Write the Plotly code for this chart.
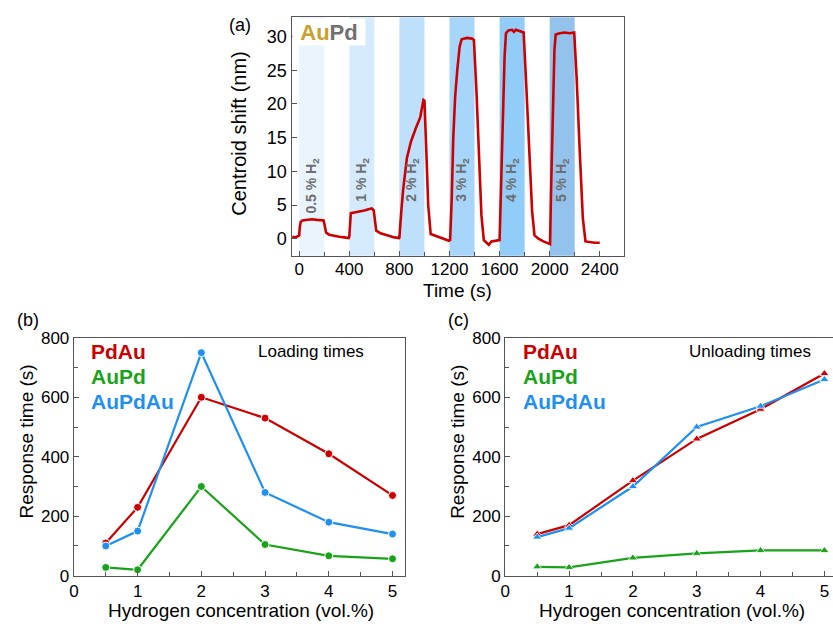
import plotly.graph_objects as go

# ---------------- data ----------------
# Panel (a): AuPd centroid shift trace
time_s = [-55, -30, -10, 0, 5, 12, 25, 60, 100, 140, 180, 195, 205, 215, 240, 280, 320, 360, 395,
          400, 405, 412, 440, 480, 520, 560, 580, 595, 605, 615, 650, 700, 760, 798,
          800, 815, 830, 860, 892, 931, 966, 992, 1000, 1015, 1030, 1050, 1080, 1120, 1160, 1196,
          1205, 1218, 1230, 1245, 1262, 1281, 1297, 1340, 1380, 1395, 1415, 1435, 1455, 1474, 1495, 1514, 1535, 1570, 1595,
          1600, 1612, 1625, 1640, 1651, 1670, 1700, 1715, 1730, 1760, 1792, 1810, 1835, 1860, 1879, 1910, 1950, 1995,
          2003, 2012, 2025, 2038, 2048, 2080, 2120, 2160, 2196, 2215, 2240, 2265, 2286, 2320, 2360, 2400]
shift_nm = [0.3, 0.2, 0.4, 0.5, 1.8, 2.5, 2.7, 2.8, 2.9, 2.8, 2.8, 2.7, 1.8, 0.9, 0.6, 0.4, 0.3, 0.2, 0.1,
            0.3, 2.5, 3.8, 3.9, 4.0, 4.2, 4.4, 4.5, 4.2, 2.5, 1.2, 0.8, 0.5, 0.2, 0.1,
            0.2, 4.0, 7.3, 12.0, 14.4, 16.4, 18.0, 20.6, 20.5, 13.0, 5.0, 0.7, 0.5, 0.3, 0.0, -0.3,
            -0.2, 6.0, 14.9, 21.0, 25.0, 28.5, 29.6, 29.8, 29.7, 29.5, 22.0, 12.0, 3.5, -0.2, -0.6, -0.9, -0.4, -0.3, -0.3,
            -0.2, 8.0, 19.0, 27.0, 30.5, 30.9, 31.0, 30.7, 31.0, 30.8, 30.6, 24.0, 13.0, 4.0, 0.5, 0.0, -0.4, -0.7,
            -0.8, 8.0, 20.0, 28.0, 30.3, 30.5, 30.6, 30.5, 30.6, 24.0, 13.0, 3.0, -0.4, -0.5, -0.6, -0.6]
band_start = [0, 400, 800, 1200, 1600, 2000]
band_end = [200, 600, 1000, 1400, 1800, 2200]
band_label = ["0.5 % H<sub>2</sub>", "1 % H<sub>2</sub>", "2 % H<sub>2</sub>",
              "3 % H<sub>2</sub>", "4 % H<sub>2</sub>", "5 % H<sub>2</sub>"]
band_color = ["#eaf4fd", "#d5eafc", "#bfe0fb", "#a8d6fa", "#92ccf8", "#93c3ed"]

# Panels (b) and (c)
conc = [0.5, 1, 2, 3, 4, 5]
load_PdAu = [110, 230, 600, 530, 410, 270]
load_AuPd = [28, 20, 300, 105, 67, 57]
load_AuPdAu = [100, 150, 750, 280, 180, 140]
unload_PdAu = [140, 170, 320, 460, 560, 680]
unload_AuPd = [30, 28, 60, 75, 85, 85]
unload_AuPdAu = [130, 160, 300, 500, 570, 660]

series_names = ["PdAu", "AuPd", "AuPdAu"]
series_colors = ["#cc0000", "#1aa31a", "#1f8ff0"]

W, H = 833, 632
FONT = "Arial, Liberation Sans, sans-serif"
AX = "#555555"

def px(x):
    return x / W

def py(y):
    return 1 - y / H

fig = go.Figure()

# ---- panel (a) ----
fig.add_trace(go.Scatter(x=time_s, y=shift_nm, mode="lines",
                         line=dict(color="#cc0000", width=2.6), xaxis="x", yaxis="y",
                         showlegend=False))

# ---- panel (b) ----
for name, vals, col in zip(series_names, [load_PdAu, load_AuPd, load_AuPdAu], series_colors):
    fig.add_trace(go.Scatter(x=conc, y=vals, mode="lines+markers", name=name,
                             line=dict(color=col, width=2.2),
                             marker=dict(symbol="circle", size=8, color=col,
                                         line=dict(color="white", width=1)),
                             xaxis="x2", yaxis="y2", showlegend=False))
# ---- panel (c) ----
for name, vals, col in zip(series_names, [unload_PdAu, unload_AuPd, unload_AuPdAu], series_colors):
    fig.add_trace(go.Scatter(x=conc, y=vals, mode="lines+markers", name=name,
                             line=dict(color=col, width=2.2),
                             marker=dict(symbol="triangle-up", size=8, color=col,
                                         line=dict(color="white", width=0.8)),
                             xaxis="x3", yaxis="y3", showlegend=False))

shapes = []
annotations = []
for s, e, c, lab in zip(band_start, band_end, band_color, band_label):
    shapes.append(dict(type="rect", xref="x", yref="y domain", x0=s, x1=e, y0=0, y1=1,
                       fillcolor=c, line=dict(width=0), layer="below"))
    annotations.append(dict(x=(s + e) / 2, y=12.3, xref="x", yref="y", text="<b>" + lab + "</b>",
                            textangle=-90, showarrow=False, yanchor="top", xanchor="center",
                            font=dict(family=FONT, size=14, color="#6e6e6e")))

# AuPd label with white box
annotations.append(dict(x=px(288.8), y=py(8.8), xref="paper", yref="paper",
                        xanchor="left", yanchor="top", showarrow=False,
                        text="<b><span style='color:#c9a02c'>Au</span><span style='color:#707070'>Pd</span></b>",
                        bgcolor="white", width=72, height=26, align="center", valign="middle",
                        borderpad=0, font=dict(family=FONT, size=22)))

def txt(x, y, t, size, color="black", anchor="center", angle=0):
    annotations.append(dict(x=px(x), y=py(y), xref="paper", yref="paper", text=t,
                            showarrow=False, xanchor=anchor, yanchor="middle", textangle=angle,
                            font=dict(family=FONT, size=size, color=color)))

# panel letters
txt(236, 17, "(a)", 18)
txt(23, 321, "(b)", 18)
txt(456, 321, "(c)", 18)
# axis titles
txt(236, 128, "Centroid shift (nm)", 20, angle=-90)
txt(455, 290, "Time (s)", 19)
txt(22, 446, "Response time (s)", 19, angle=-90)
txt(237, 620, "Hydrogen concentration (vol.%)", 19)
txt(455, 446, "Response time (s)", 19, angle=-90)
txt(671, 620, "Hydrogen concentration (vol.%)", 19)
# in-panel texts
txt(308, 353, "Loading times", 17)
txt(749, 353, "Unloading times", 17)
for i, (name, col) in enumerate(zip(series_names, series_colors)):
    txt(85, 353.5 + 25.5 * i, "<b>" + name + "</b>", 21, col, anchor="left")
    txt(519, 353.5 + 25.5 * i, "<b>" + name + "</b>", 21, col, anchor="left")

def axstyle(**kw):
    d = dict(showline=True, linecolor=AX, linewidth=1.3, ticks="inside", ticklen=5,
             tickcolor=AX, tickwidth=1.2, showgrid=False, zeroline=False,
             tickfont=dict(family=FONT, size=17, color="black"))
    d.update(kw)
    return d

fig.update_layout(
    width=W, height=H, margin=dict(l=0, r=0, t=0, b=0),
    paper_bgcolor="white", plot_bgcolor="rgba(0,0,0,0)",
    showlegend=False,
    xaxis=axstyle(domain=[px(288.3), px(622.3)], range=[-61, 2590], tickvals=[0, 400, 800, 1200, 1600, 2000, 2400],
                  minor=dict(tickvals=[200, 600, 1000, 1400, 1800, 2200], ticks="inside", ticklen=4, tickcolor=AX),
                  mirror=True, anchor="y", ticklabelstandoff=-2,
                  tickfont=dict(family=FONT, size=17, color="black")),
    yaxis=axstyle(domain=[py(254.5), py(8.5)], range=[-2.54, 32.87], tickvals=[0, 5, 10, 15, 20, 25, 30],
                  mirror=True, anchor="x", tickfont=dict(family=FONT, size=18, color="black")),
    xaxis2=axstyle(domain=[px(69.3), px(402.7)], range=[0, 5.2], tickvals=[0, 1, 2, 3, 4, 5],
                   minor=dict(tickvals=[0.5, 1.5, 2.5, 3.5, 4.5], ticks="inside", ticklen=4, tickcolor=AX),
                   mirror=True, anchor="y2"),
    yaxis2=axstyle(domain=[py(584.3), py(339)], range=[0, 800], tickvals=[0, 200, 400, 600, 800],
                   minor=dict(tickvals=[100, 300, 500, 700], ticks="inside", ticklen=4, tickcolor=AX),
                   mirror=True, anchor="x2"),
    xaxis3=axstyle(domain=[px(503.3), 1.0], range=[0, 5.135], tickvals=[0, 1, 2, 3, 4, 5],
                   minor=dict(tickvals=[0.5, 1.5, 2.5, 3.5, 4.5], ticks="inside", ticklen=4, tickcolor=AX),
                   mirror=True, anchor="y3"),
    yaxis3=axstyle(domain=[py(584.3), py(339)], range=[0, 800], tickvals=[0, 200, 400, 600, 800],
                   minor=dict(tickvals=[100, 300, 500, 700], ticks="inside", ticklen=4, tickcolor=AX),
                   mirror=False, anchor="x3"),
    shapes=shapes,
    annotations=annotations,
)

fig.write_html("out.html")
